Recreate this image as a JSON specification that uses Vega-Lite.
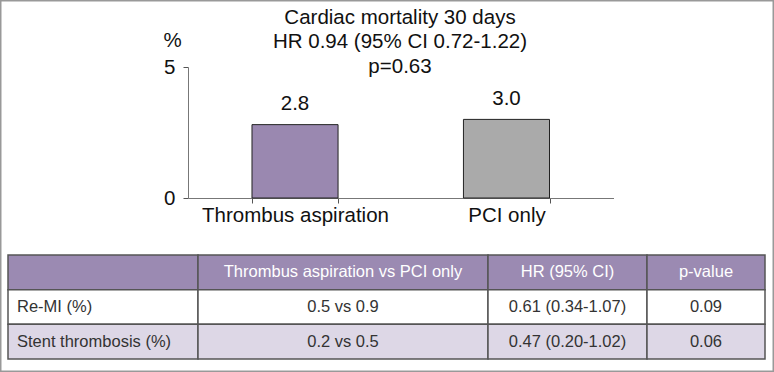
{
 "$schema": "https://vega.github.io/schema/vega-lite/v6.json",
 "width": 774, "height": 372,
 "autosize": {"type": "none"},
 "padding": 0,
 "background": "white",
 "config": {"view": {"stroke": "#999", "strokeWidth": 3}, "font": "Liberation Sans"},
 "title": {"text": ["Cardiac mortality 30 days", "HR 0.94 (95% CI 0.72-1.22)", "p=0.63"], "frame": "group", "anchor": "middle", "dx": 13, "baseline": "top", "offset": -77, "fontSize": 20.5, "fontWeight": "normal", "lineHeight": 24.5, "color": "#111", "font": "Liberation Sans"},
 "datasets": {
  "bars": [
   {"group": "Thrombus aspiration", "pct": 2.8},
   {"group": "PCI only", "pct": 3.0}
  ],
  "table": [
   {"row": "h", "kind": "header", "c1": "", "c2": "Thrombus aspiration vs PCI only", "c3": "HR (95% CI)", "c4": "p-value"},
   {"row": "r1", "kind": "odd", "c1": "Re-MI (%)", "c2": "0.5 vs 0.9", "c3": "0.61 (0.34-1.07)", "c4": "0.09"},
   {"row": "r2", "kind": "even", "c1": "Stent thrombosis (%)", "c2": "0.2 vs 0.5", "c3": "0.47 (0.20-1.02)", "c4": "0.06"}
  ]
 },
 "resolve": {"scale": {"x": "independent", "y": "independent", "fill": "independent"}, "axis": {"x": "independent", "y": "independent"}},
 "layer": [
  {
   "data": {"name": "bars"},
   "encoding": {
    "x": {"field": "group", "type": "nominal", "sort": ["Thrombus aspiration", "PCI only"], "scale": {"range": [188, 613.5], "paddingInner": 0.593, "paddingOuter": 0.3026}, "axis": {"orient": "bottom", "offset": -174, "title": null, "labelAngle": 0, "labelFontSize": 20.5, "labelLimit": 400, "labelColor": "#111", "labelPadding": 2, "tickBand": "extent", "tickSize": 5, "tickColor": "#555", "domainColor": "#777", "labelFont": "Liberation Sans"}},
    "y": {"field": "pct", "type": "quantitative", "scale": {"domain": [0, 5], "range": [198, 67]}, "axis": {"orient": "left", "offset": -188, "values": [0, 5], "grid": false, "title": "%", "titleAngle": 0, "titleX": -16, "titleY": 40, "titleAlign": "center", "titleBaseline": "middle", "titleFontSize": 20.5, "titleFontWeight": "normal", "titleColor": "#111", "labelFontSize": 20.5, "labelColor": "#111", "tickSize": 5, "domainColor": "#777", "tickColor": "#555", "labelPadding": 8, "labelFont": "Liberation Sans", "titleFont": "Liberation Sans"}}
   },
   "layer": [
    {"mark": {"type": "bar", "stroke": "#222", "strokeWidth": 1}, "encoding": {"fill": {"field": "group", "type": "nominal", "scale": {"domain": ["Thrombus aspiration", "PCI only"], "range": ["#9a88b0", "#aaaaaa"]}, "legend": null}}},
    {"mark": {"type": "text", "baseline": "alphabetic", "dy": -14.6, "fontSize": 20.5, "color": "#111"}, "encoding": {"text": {"field": "pct", "type": "quantitative", "format": ".1f"}}}
   ]
  },
  {
   "data": {"name": "table"},
   "transform": [{"fold": ["c1", "c2", "c3", "c4"], "as": ["key", "value"]}, {"filter": "datum.key === 'c1'"}],
   "encoding": {
    "x": {"field": "key", "type": "nominal", "scale": {"range": [8, 198], "paddingInner": 0, "paddingOuter": 0}, "axis": null},
    "y": {"field": "row", "type": "nominal", "sort": ["h", "r1", "r2"], "scale": {"range": [255, 359], "paddingInner": 0, "paddingOuter": 0}, "axis": null}
   },
   "layer": [
    {"mark": {"type": "rect", "stroke": "#555", "strokeWidth": 1.5}, "encoding": {"fill": {"condition": [{"test": "datum.kind === 'header'", "value": "#9b8ab2"}, {"test": "datum.kind === 'even'", "value": "#ddd7e6"}], "value": "#ffffff"}}},
    {"mark": {"type": "text", "align": "left", "dx": 9, "font": "Liberation Sans", "fontSize": 16.5}, "encoding": {"x": {"field": "key", "type": "nominal", "bandPosition": 0}, "text": {"field": "value"}, "color": {"condition": {"test": "datum.kind === 'header'", "value": "#ffffff"}, "value": "#333333"}}}
   ]
  },
  {
   "data": {"name": "table"},
   "transform": [{"fold": ["c1", "c2", "c3", "c4"], "as": ["key", "value"]}, {"filter": "datum.key === 'c2'"}],
   "encoding": {
    "x": {"field": "key", "type": "nominal", "scale": {"range": [198, 488], "paddingInner": 0, "paddingOuter": 0}, "axis": null},
    "y": {"field": "row", "type": "nominal", "sort": ["h", "r1", "r2"], "scale": {"range": [255, 359], "paddingInner": 0, "paddingOuter": 0}, "axis": null}
   },
   "layer": [
    {"mark": {"type": "rect", "stroke": "#555", "strokeWidth": 1.5}, "encoding": {"fill": {"condition": [{"test": "datum.kind === 'header'", "value": "#9b8ab2"}, {"test": "datum.kind === 'even'", "value": "#ddd7e6"}], "value": "#ffffff"}}},
    {"mark": {"type": "text", "align": "center", "font": "Liberation Sans", "fontSize": 16.5}, "encoding": {"text": {"field": "value"}, "color": {"condition": {"test": "datum.kind === 'header'", "value": "#ffffff"}, "value": "#333333"}}}
   ]
  },
  {
   "data": {"name": "table"},
   "transform": [{"fold": ["c1", "c2", "c3", "c4"], "as": ["key", "value"]}, {"filter": "datum.key === 'c3'"}],
   "encoding": {
    "x": {"field": "key", "type": "nominal", "scale": {"range": [488, 647], "paddingInner": 0, "paddingOuter": 0}, "axis": null},
    "y": {"field": "row", "type": "nominal", "sort": ["h", "r1", "r2"], "scale": {"range": [255, 359], "paddingInner": 0, "paddingOuter": 0}, "axis": null}
   },
   "layer": [
    {"mark": {"type": "rect", "stroke": "#555", "strokeWidth": 1.5}, "encoding": {"fill": {"condition": [{"test": "datum.kind === 'header'", "value": "#9b8ab2"}, {"test": "datum.kind === 'even'", "value": "#ddd7e6"}], "value": "#ffffff"}}},
    {"mark": {"type": "text", "align": "center", "font": "Liberation Sans", "fontSize": 16.5}, "encoding": {"text": {"field": "value"}, "color": {"condition": {"test": "datum.kind === 'header'", "value": "#ffffff"}, "value": "#333333"}}}
   ]
  },
  {
   "data": {"name": "table"},
   "transform": [{"fold": ["c1", "c2", "c3", "c4"], "as": ["key", "value"]}, {"filter": "datum.key === 'c4'"}],
   "encoding": {
    "x": {"field": "key", "type": "nominal", "scale": {"range": [647, 765], "paddingInner": 0, "paddingOuter": 0}, "axis": null},
    "y": {"field": "row", "type": "nominal", "sort": ["h", "r1", "r2"], "scale": {"range": [255, 359], "paddingInner": 0, "paddingOuter": 0}, "axis": null}
   },
   "layer": [
    {"mark": {"type": "rect", "stroke": "#555", "strokeWidth": 1.5}, "encoding": {"fill": {"condition": [{"test": "datum.kind === 'header'", "value": "#9b8ab2"}, {"test": "datum.kind === 'even'", "value": "#ddd7e6"}], "value": "#ffffff"}}},
    {"mark": {"type": "text", "align": "center", "font": "Liberation Sans", "fontSize": 16.5}, "encoding": {"text": {"field": "value"}, "color": {"condition": {"test": "datum.kind === 'header'", "value": "#ffffff"}, "value": "#333333"}}}
   ]
  }
 ]
}
